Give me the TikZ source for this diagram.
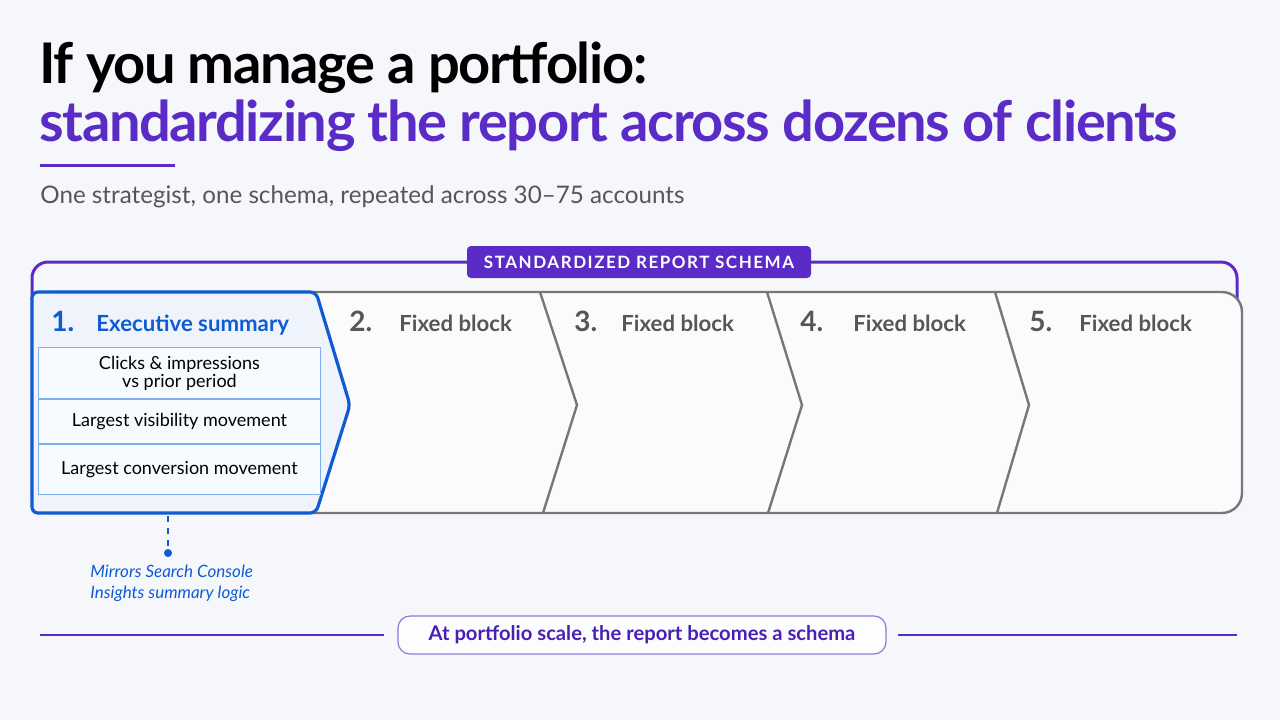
\documentclass[tikz,border=0pt]{standalone}
\usepackage{fontspec}
\setmainfont{Lato}
\newfontfamily\titlefont[LetterSpace=-2.5]{Lato}
\newfontfamily\capsfont[LetterSpace=9]{Lato}
\usetikzlibrary{positioning}
\definecolor{bgpage}{HTML}{F6F7FA}
\definecolor{brandpurple}{HTML}{5A2BC6}
\definecolor{darkpurple}{HTML}{4A1FB5}
\definecolor{execblue}{HTML}{0F5BD3}
\definecolor{execfill}{HTML}{EEF3FC}
\definecolor{tableblue}{HTML}{7FAEEE}
\definecolor{blockgray}{HTML}{777777}
\definecolor{subgray}{HTML}{565656}

\begin{document}
\begin{tikzpicture}[x=0.5pt,y=-0.5pt,
  titletext/.style={anchor=base west,inner sep=0pt,font=\titlefont\bfseries\fontsize{28}{32}\selectfont},
  stepnum/.style={anchor=base west,inner sep=0pt,font=\bfseries\fontsize{14}{16}\selectfont},
  steptitle/.style={anchor=base west,inner sep=0pt,font=\bfseries\fontsize{11.1}{13}\selectfont},
  tablerow/.style={draw=tableblue,line width=0.5pt,fill=white!55!execfill,minimum width=141pt,inner sep=0pt,align=center,font=\fontsize{9}{10}\selectfont},
  divider/.style={blockgray,line width=1.2pt}]
\fill [bgpage] (0,0) rectangle (1280,720);
\useasboundingbox (0,0) rectangle (1280,720);
\node [titletext] (title1) at (39,83) {If you manage a portfolio:};
\node [titletext,text=brandpurple] (title2) at (39,141) {standardizing the report across dozens of clients};
\draw [brandpurple,line width=1.5pt] (40,165) -- (175,165);
\node [anchor=base west,inner sep=0pt,text=subgray,font=\fontsize{12.1}{14}\selectfont] (subtitle) at (40,203) {One strategist, one schema, repeated across 30--75 accounts};
\draw [brandpurple,line width=1.5pt,rounded corners=8pt] (32,300) |- (1237,262) -- (1237,300);
\node [fill=brandpurple,text=white,rounded corners=2pt,minimum width=172pt,minimum height=16pt,inner sep=0pt,font=\capsfont\bfseries\fontsize{8.5}{10}\selectfont] (schema) at (639,262) {STANDARDIZED REPORT SCHEMA};
\draw [blockgray,line width=1.2pt,fill=white!55!bgpage,rounded corners=10pt] (32,292) rectangle (1242,513);
\foreach \tx/\mx/\bx in {540/577/543,767/802/768,995/1029/997}
  \draw [divider] (\tx,292) -- (\mx,405) -- (\bx,513);
\draw [execblue,line width=1.6pt,fill=execfill,rounded corners=3pt] (32,292) -- (316,292) -- (350,405) -- (316,513) -- (32,513) -- cycle;
\node [stepnum,text=execblue] (num1) at (51,331) {1.};
\node [steptitle,text=execblue] (head1) at (96,331) {Executive summary};
\node [stepnum,text=subgray] (num2) at (349,331) {2.};
\node [steptitle,text=subgray] (head2) at (399,331) {Fixed block};
\node [stepnum,text=subgray] (num3) at (574,331) {3.};
\node [steptitle,text=subgray] (head3) at (621,331) {Fixed block};
\node [stepnum,text=subgray] (num4) at (800,331) {4.};
\node [steptitle,text=subgray] (head4) at (853,331) {Fixed block};
\node [stepnum,text=subgray] (num5) at (1029,331) {5.};
\node [steptitle,text=subgray] (head5) at (1079,331) {Fixed block};
\node [tablerow,minimum height=25.5pt,anchor=north west] (row1) at (38,347) {Clicks \& impressions\\[-1pt]vs prior period};
\node [tablerow,minimum height=22pt,below=0pt of row1] (row2) {Largest visibility movement};
\node [tablerow,minimum height=25pt,below=0pt of row2] (row3) {Largest conversion movement};
\coordinate (execbottom) at (168,516);
\coordinate (notedot) at (168,553);
\draw [execblue,dashed,line width=0.6pt] (execbottom) -- (notedot);
\fill [execblue] (notedot) circle (2pt);
\node [anchor=north west,inner sep=0pt,align=left,text=execblue,font=\itshape\fontsize{8.5}{10.5}\selectfont] (note) at (90,565) {Mirrors Search Console\\Insights summary logic};
\node [draw=brandpurple!65,line width=0.6pt,fill=white!70!bgpage,rounded corners=6pt,minimum width=244pt,minimum height=19pt,inner sep=0pt,text=darkpurple,font=\bfseries\fontsize{10.1}{12}\selectfont] (tagline) at (642,635) {At portfolio scale, the report becomes a schema};
\coordinate (ruleL) at (40,635);
\coordinate (ruleR) at (1237,635);
\draw [brandpurple,line width=0.8pt] (ruleL) -- ([xshift=-6.5pt]tagline.west);
\draw [brandpurple,line width=0.8pt] ([xshift=5.5pt]tagline.east) -- (ruleR);
\end{tikzpicture}
\end{document}
